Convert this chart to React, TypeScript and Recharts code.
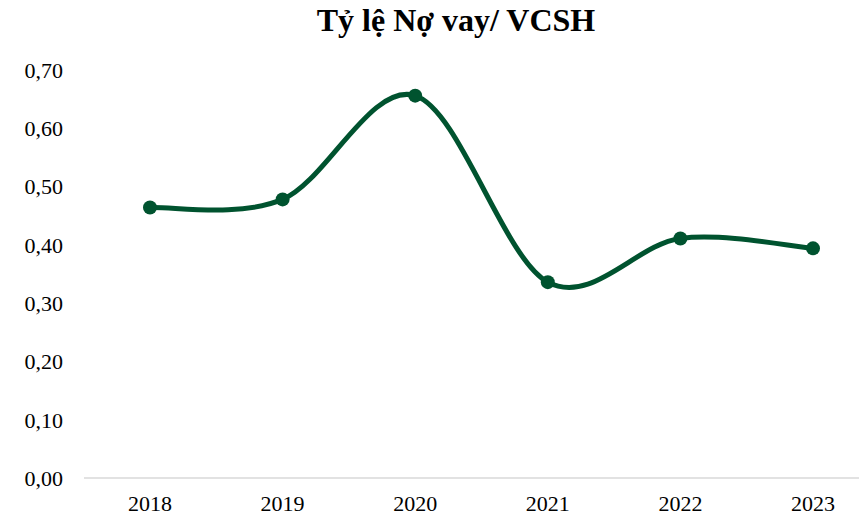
import React from "react";
import { LineChart, Line, XAxis, YAxis } from "recharts";

const years = ["2018", "2019", "2020", "2021", "2022", "2023"];
const ratios = [0.464, 0.478, 0.656, 0.336, 0.411, 0.394];
const yTicks = [0, 0.1, 0.2, 0.3, 0.4, 0.5, 0.6, 0.7];
const title = "Tỷ lệ Nợ vay/ VCSH";

const data = years.map((y, i) => ({ year: y, value: ratios[i] }));

const FONT = '"Liberation Serif", "Times New Roman", serif';
const GREEN = "#00532f";

function excelCurve(context: any) {
  let pts: [number, number][] = [];
  return {
    areaStart() {},
    areaEnd() {},
    lineStart() {
      pts = [];
    },
    lineEnd() {
      const n = pts.length;
      if (n === 0) return;
      context.moveTo(pts[0][0], pts[0][1]);
      for (let i = 0; i < n - 1; i++) {
        const p0 = pts[Math.max(i - 1, 0)];
        const p1 = pts[i];
        const p2 = pts[i + 1];
        const p3 = pts[Math.min(i + 2, n - 1)];
        context.bezierCurveTo(
          p1[0] + (p2[0] - p0[0]) / 6,
          p1[1] + (p2[1] - p0[1]) / 6,
          p2[0] - (p3[0] - p1[0]) / 6,
          p2[1] - (p3[1] - p1[1]) / 6,
          p2[0],
          p2[1]
        );
      }
    },
    point(x: number, y: number) {
      pts.push([+x, +y]);
    },
  };
}

export default function App() {
  return (
    <div
      style={{
        position: "absolute",
        left: 0,
        top: 0,
        width: 859,
        height: 516,
        overflow: "hidden",
        background: "#fff",
      }}
    >
      <div
        style={{
          position: "absolute",
          left: 456,
          top: 5,
          transform: "translateX(-50%)",
          whiteSpace: "nowrap",
          fontFamily: FONT,
          fontWeight: "bold",
          fontSize: 32,
          lineHeight: "31px",
          color: "#000",
        }}
      >
        {title}
      </div>
      <LineChart
        width={879}
        height={516}
        data={data}
        margin={{ top: 70, right: 0, bottom: 0, left: 0 }}
      >
        <XAxis
          dataKey="year"
          axisLine={{ stroke: "#d9d9d9", strokeWidth: 1.5 }}
          tickLine={false}
          tickSize={0}
          tickMargin={17}
          height={38}
          padding={{ left: 66, right: 66 }}
          tick={{ fill: "#000", fontFamily: FONT, fontSize: 22 }}
          interval={0}
        />
        <YAxis
          domain={[0, 0.7]}
          ticks={yTicks}
          width={84}
          axisLine={false}
          tickLine={false}
          tickSize={0}
          tickMargin={21}
          tick={{ fill: "#000", fontFamily: FONT, fontSize: 22 }}
          tickFormatter={(v: number) => v.toFixed(2).replace(".", ",")}
        />
        <Line
          dataKey="value"
          type={excelCurve as any}
          stroke={GREEN}
          strokeWidth={5}
          dot={{ r: 7, fill: GREEN, stroke: GREEN, strokeWidth: 0 }}
          activeDot={false}
          isAnimationActive={false}
        />
      </LineChart>
    </div>
  );
}
